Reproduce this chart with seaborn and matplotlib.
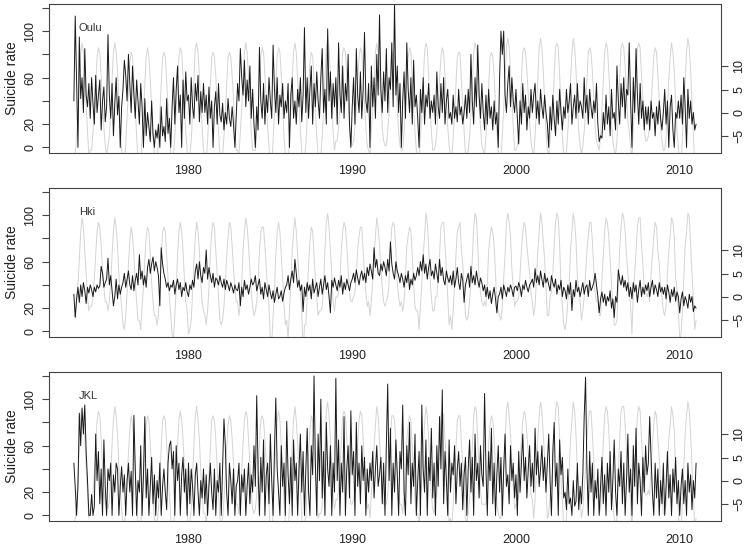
import numpy as np
import pandas as pd
import seaborn as sns
import matplotlib.pyplot as plt

# monthly values, one row per year: Jan 1973 ... Dec 2010, then Jan 2011
oulu_rate = [
    40, 113, 58, 0, 95, 42, 60, 30, 85, 45, 35, 55,
    25, 60, 38, 20, 62, 30, 45, 58, 15, 40, 52, 22,
    35, 97, 45, 25, 55, 10, 38, 60, 28, 44, 0, 35,
    50, 75, 62, 40, 80, 55, 30, 70, 45, 25, 58, 40,
    20, 55, 35, 0, 42, 10, 30, 18, 5, 40, 12, 0,
    15, 8, 20, 0, 35, 10, 18, 5, 42, 12, 25, 0,
    35, 60, 20, 50, 70, 30, 45, 0, 58, 25, 65, 40,
    45, 20, 60, 35, 25, 55, 40, 62, 22, 48, 30, 55,
    30, 45, 20, 52, 25, 40, 0, 35, 48, 20, 55, 28,
    22, 38, 15, 30, 20, 42, 25, 18, 35, 20, 0, 28,
    55, 40, 85, 60, 45, 75, 35, 58, 40, 70, 25, 50,
    20, 0, 35, 15, 86, 40, 25, 55, 20, 45, 30, 60,
    40, 25, 88, 50, 30, 60, 20, 45, 35, 55, 25, 40,
    30, 55, 0, 45, 60, 25, 40, 20, 50, 35, 60, 22,
    45, 103, 30, 60, 25, 50, 70, 20, 55, 35, 65, 40,
    25, 60, 85, 30, 50, 20, 102, 40, 65, 25, 55, 35,
    60, 20, 90, 45, 30, 70, 25, 55, 40, 80, 20, 0,
    35, 60, 20, 85, 45, 30, 65, 25, 50, 99, 40, 30,
    55, 0, 70, 35, 60, 25, 80, 45, 114, 50, 30, 65,
    40, 85, 30, 60, 50, 90, 35, 125, 45, 70, 30, 55,
    0, 40, 65, 25, 90, 50, 30, 60, 20, 75, 35, 45,
    25, 0, 50, 30, 60, 20, 45, 35, 55, 25, 40, 30,
    45, 20, 65, 35, 25, 55, 30, 60, 20, 40, 50, 25,
    30, 20, 45, 25, 35, 22, 50, 28, 35, 20, 30, 45,
    25, 50, 30, 80, 40, 20, 60, 35, 88, 45, 25, 55,
    30, 15, 45, 20, 50, 25, 35, 15, 40, 20, 30, 0,
    60, 100, 80, 100, 45, 30, 55, 70, 35, 60, 40, 30,
    50, 25, 3, 40, 20, 55, 30, 45, 15, 35, 25, 50,
    30, 45, 55, 25, 40, 20, 50, 35, 25, 45, 30, 20,
    0, 35, 15, 45, 25, 10, 40, 20, 50, 30, 15, 35,
    25, 50, 30, 40, 55, 20, 35, 45, 25, 55, 30, 40,
    35, 25, 60, 30, 45, 20, 50, 35, 25, 40, 30, 55,
    20, 5, 10, 8, 30, 15, 45, 20, 35, 10, 50, 25,
    30, 15, 70, 40, 20, 55, 35, 60, 25, 50, 45, 90,
    40, 0, 60, 30, 85, 45, 20, 55, 25, 40, 15, 35,
    20, 35, 15, 40, 25, 30, 10, 35, 20, 40, 25, 15,
    30, 50, 20, 40, 0, 35, 45, 15, 0, 30, 25, 40,
    25, 45, 20, 60, 35, 0, 50, 25, 40, 20, 30, 15,
    20,
]
oulu_temp = [
    -10, -9, -5, 0, 6, 13, 15, 13, 8, 2, -4, -9,
    -8, -8, -4, 1, 6, 12, 14, 13, 8, 2, -3, -7,
    -9, -7, -5, 0, 7, 13, 15, 13, 9, 2, -4, -8,
    -11, -10, -7, -1, 5, 11, 13, 12, 7, 1, -5, -10,
    -10, -11, -5, 0, 6, 12, 14, 12, 7, 1, -5, -9,
    -10, -10, -6, 0, 6, 12, 13, 12, 7, 1, -4, -9,
    -11, -9, -5, 1, 7, 12, 14, 13, 8, 2, -4, -8,
    -10, -9, -6, 0, 7, 14, 15, 13, 8, 2, -3, -8,
    -9, -10, -6, 0, 6, 12, 13, 12, 8, 2, -4, -9,
    -10, -9, -5, 0, 6, 12, 13, 12, 8, 3, -3, -8,
    -8, -9, -4, 1, 7, 13, 15, 13, 8, 2, -4, -8,
    -8, -8, -4, 1, 7, 12, 14, 13, 8, 3, -3, -7,
    -12, -11, -6, 0, 6, 12, 14, 13, 8, 1, -5, -9,
    -10, -11, -5, 1, 7, 13, 15, 13, 7, 2, -4, -8,
    -13, -10, -7, -1, 5, 11, 13, 12, 7, 1, -5, -9,
    -9, -9, -5, 0, 7, 14, 16, 14, 8, 2, -4, -8,
    -6, -6, -3, 1, 7, 13, 14, 13, 8, 3, -3, -6,
    -7, -6, -3, 1, 7, 12, 14, 13, 8, 2, -3, -7,
    -8, -9, -4, 1, 6, 13, 15, 13, 8, 3, -3, -6,
    -7, -7, -4, 0, 7, 12, 13, 12, 7, 1, -4, -7,
    -8, -8, -4, 1, 8, 12, 14, 13, 7, 1, -4, -8,
    -9, -10, -5, 0, 6, 13, 15, 14, 8, 2, -4, -8,
    -8, -7, -4, 1, 7, 12, 14, 13, 8, 3, -3, -7,
    -9, -10, -5, 0, 6, 12, 13, 13, 7, 2, -4, -9,
    -9, -8, -5, 0, 6, 13, 15, 14, 9, 2, -3, -7,
    -8, -9, -5, 0, 6, 12, 13, 12, 8, 2, -4, -8,
    -10, -9, -5, 1, 7, 14, 16, 14, 9, 3, -3, -8,
    -8, -7, -4, 1, 7, 13, 14, 13, 9, 4, -2, -6,
    -8, -9, -5, 1, 7, 14, 16, 14, 9, 3, -4, -8,
    -9, -6, -3, 1, 8, 14, 15, 14, 8, 1, -5, -9,
    -10, -8, -4, 1, 7, 13, 16, 14, 9, 2, -4, -7,
    -9, -7, -4, 1, 7, 13, 14, 13, 9, 3, -3, -6,
    -7, -8, -5, 1, 7, 13, 15, 14, 9, 3, -2, -6,
    -8, -9, -6, 0, 7, 14, 15, 14, 10, 4, -2, -4,
    -7, -10, -3, 1, 7, 14, 15, 14, 8, 3, -3, -6,
    -6, -5, -3, 1, 7, 12, 14, 13, 8, 3, -3, -6,
    -8, -8, -5, 1, 7, 12, 15, 13, 9, 2, -4, -7,
    -12, -11, -5, 1, 7, 13, 16, 14, 9, 2, -5, -11,
    -9,
]

hki_rate = [
    32, 12, 28, 38, 25, 40, 30, 42, 35, 24, 38, 33,
    40, 36, 30, 38, 34, 40, 37, 39, 56, 50, 38, 42,
    45, 63, 40, 48, 35, 22, 30, 45, 28, 40, 32, 38,
    42, 50, 38, 45, 52, 40, 36, 48, 35, 44, 50, 40,
    66, 45, 52, 40, 48, 38, 55, 62, 50, 58, 64, 52,
    60, 55, 48, 22, 72, 58, 50, 45, 38, 42, 35, 40,
    38, 44, 32, 40, 45, 36, 42, 30, 38, 35, 42, 34,
    30, 40, 36, 44, 38, 52, 58, 45, 60, 48, 42, 55,
    50, 70, 45, 55, 48, 42, 50, 38, 46, 44, 40, 48,
    42, 38, 45, 36, 44, 40, 35, 42, 38, 33, 40, 36,
    35, 42, 22, 38, 30, 44, 36, 40, 32, 38, 45, 40,
    42, 48, 35, 40, 45, 32, 38, 28, 42, 36, 30, 40,
    33, 28, 35, 25, 32, 38, 28, 30, 35, 26, 33, 38,
    40, 48, 36, 45, 52, 42, 62, 50, 38, 44, 35, 40,
    17, 38, 30, 42, 35, 40, 28, 45, 33, 38, 42, 30,
    38, 45, 32, 40, 48, 36, 42, 30, 16, 44, 38, 46,
    40, 35, 44, 38, 48, 32, 42, 36, 45, 40, 35, 42,
    45, 50, 42, 53, 46, 40, 48, 52, 44, 50, 42, 55,
    48, 58, 52, 45, 72, 55, 62, 50, 48, 58, 52, 60,
    55, 48, 62, 52, 77, 58, 50, 45, 60, 52, 48, 42,
    50, 45, 38, 48, 42, 52, 36, 45, 40, 50, 44, 48,
    55, 48, 60, 52, 66, 50, 58, 45, 55, 62, 48, 52,
    45, 58, 50, 42, 62, 48, 55, 44, 40, 52, 46, 42,
    48, 40, 52, 38, 45, 55, 42, 36, 50, 44, 25, 40,
    45, 50, 38, 56, 42, 48, 40, 52, 44, 38, 46, 42,
    35, 40, 30, 38, 28, 35, 24, 32, 38, 28, 16, 30,
    32, 38, 28, 40, 35, 30, 38, 34, 40, 36, 30, 38,
    39, 35, 42, 38, 30, 40, 36, 44, 38, 34, 40, 42,
    45, 38, 54, 42, 48, 40, 52, 45, 38, 50, 42, 46,
    40, 35, 48, 42, 38, 45, 32, 40, 36, 44, 30, 38,
    35, 28, 40, 32, 42, 18, 36, 30, 44, 34, 38, 30,
    36, 42, 32, 38, 40, 30, 44, 35, 38, 42, 50, 40,
    30, 16, 28, 34, 25, 32, 22, 30, 26, 35, 20, 28,
    12, 30, 25, 53, 45, 40, 48, 38, 44, 35, 42, 30,
    38, 28, 42, 34, 40, 25, 36, 44, 30, 38, 32, 40,
    35, 42, 30, 38, 44, 32, 40, 36, 30, 42, 34, 38,
    32, 38, 28, 40, 34, 25, 36, 30, 38, 26, 34, 30,
    16, 28, 34, 22, 30, 26, 20, 32, 25, 30, 17, 22,
    20,
]
hki_temp = [
    -4, -4, -1, 3, 8, 14, 17, 15, 10, 5, 0, -3,
    -2, -2, 0, 4, 9, 14, 16, 15, 11, 6, 2, -1,
    -1, -3, -1, 3, 9, 14, 17, 15, 11, 5, 1, -2,
    -6, -7, -4, 1, 7, 12, 15, 13, 9, 3, -1, -5,
    -5, -7, -2, 2, 8, 13, 15, 14, 9, 3, -1, -4,
    -4, -6, -4, 2, 8, 14, 15, 14, 9, 4, 0, -4,
    -8, -9, -4, 2, 9, 14, 16, 14, 10, 4, -1, -3,
    -8, -7, -5, 1, 8, 13, 16, 14, 10, 3, -1, -3,
    -4, -6, -3, 2, 9, 14, 16, 15, 10, 5, 0, -5,
    -6, -5, -2, 3, 9, 13, 16, 15, 11, 6, 2, -1,
    -1, -4, -1, 3, 10, 14, 17, 15, 11, 6, 1, -2,
    -4, -3, -1, 3, 10, 14, 15, 15, 11, 6, 2, -2,
    -9, -10, -4, 1, 9, 14, 16, 14, 9, 4, -2, -6,
    -5, -9, -3, 3, 10, 14, 17, 14, 9, 4, 1, -3,
    -13, -6, -6, 0, 7, 12, 15, 14, 9, 4, 0, -4,
    -3, -3, -2, 2, 10, 16, 18, 15, 10, 5, -1, -3,
    0, 0, 1, 4, 10, 14, 16, 15, 11, 6, 1, -1,
    -1, 0, 1, 5, 10, 13, 15, 15, 10, 5, 1, -2,
    -1, -4, -1, 3, 9, 13, 17, 15, 11, 6, 2, -1,
    -2, -1, 0, 3, 10, 15, 16, 15, 10, 3, 0, -2,
    -1, -3, -1, 4, 11, 13, 15, 14, 9, 3, -2, -3,
    -3, -7, -2, 3, 9, 13, 18, 16, 11, 4, 0, -3,
    -3, 0, 0, 4, 9, 15, 16, 16, 11, 6, 0, -6,
    -4, -7, -3, 3, 9, 14, 15, 16, 10, 7, 2, -4,
    -5, -4, -1, 3, 8, 15, 18, 17, 11, 4, 1, -1,
    -2, -1, -2, 3, 10, 13, 15, 14, 11, 5, -2, -3,
    -4, -5, -2, 4, 9, 16, 18, 16, 13, 6, 2, -2,
    -1, -1, 0, 5, 10, 14, 16, 15, 11, 8, 5, 1,
    -1, -4, -2, 4, 10, 14, 18, 16, 12, 8, 2, -4,
    -4, 0, 1, 5, 11, 16, 18, 17, 11, 2, -2, -6,
    -7, -5, -1, 3, 10, 14, 18, 16, 12, 4, 2, -1,
    -5, -3, 0, 5, 10, 13, 16, 16, 12, 6, 1, -1,
    -1, -4, -4, 4, 9, 14, 17, 16, 13, 8, 3, -2,
    -6, -6, -5, 3, 10, 15, 18, 17, 14, 9, 5, 2,
    -2, -8, 1, 5, 10, 15, 17, 17, 11, 7, 2, 1,
    0, 1, -1, 5, 9, 13, 16, 15, 10, 7, 2, 0,
    -3, -4, -2, 5, 10, 13, 17, 16, 13, 4, 2, -3,
    -9, -8, -3, 4, 11, 14, 18, 17, 11, 5, 0, -7,
    -5,
]

jkl_rate = [
    45, 24, 0, 25, 88, 60, 92, 70, 95, 55, 30, 0,
    0, 18, 0, 8, 70, 30, 55, 10, 40, 0, 65, 25,
    0, 40, 30, 45, 0, 35, 20, 45, 40, 0, 25, 42,
    20, 35, 0, 30, 45, 20, 38, 0, 86, 40, 0, 30,
    20, 60, 0, 35, 85, 15, 40, 0, 25, 50, 10, 35,
    0, 30, 15, 45, 0, 25, 40, 20, 5, 45, 60, 64,
    40, 55, 0, 60, 30, 45, 0, 35, 50, 20, 40, 0,
    45, 10, 40, 25, 0, 35, 45, 20, 0, 30, 15, 40,
    10, 35, 0, 25, 45, 20, 5, 40, 0, 30, 20, 45,
    0, 40, 83, 60, 20, 0, 45, 30, 10, 40, 0, 25,
    30, 45, 0, 35, 20, 40, 0, 25, 45, 10, 35, 20,
    60, 25, 103, 40, 0, 50, 20, 65, 0, 35, 45, 10,
    70, 30, 0, 55, 101, 40, 20, 0, 60, 25, 45, 0,
    81, 35, 10, 50, 0, 65, 30, 45, 0, 40, 70, 20,
    55, 0, 40, 75, 20, 0, 60, 35, 120, 45, 0, 70,
    30, 100, 15, 55, 0, 80, 40, 25, 60, 0, 45, 20,
    118, 30, 65, 0, 45, 20, 85, 0, 40, 60, 15, 90,
    35, 55, 0, 80, 25, 45, 10, 60, 30, 50, 0, 40,
    20, 45, 30, 55, 15, 40, 60, 25, 35, 50, 10, 45,
    0, 60, 113, 30, 75, 0, 45, 20, 65, 35, 0, 55,
    40, 95, 20, 0, 60, 35, 80, 10, 45, 25, 70, 0,
    30, 55, 0, 95, 40, 20, 65, 0, 50, 30, 75, 15,
    45, 0, 60, 25, 85, 40, 108, 10, 55, 30, 0, 65,
    20, 45, 35, 60, 10, 40, 55, 25, 45, 5, 35, 50,
    0, 40, 65, 20, 50, 0, 70, 30, 45, 15, 60, 35,
    25, 105, 40, 0, 55, 30, 75, 10, 45, 0, 35, 60,
    20, 50, 0, 40, 70, 25, 35, 10, 60, 30, 45, 15,
    35, 0, 55, 20, 45, 70, 30, 50, 15, 40, 60, 25,
    45, 20, 75, 35, 55, 25, 40, 60, 30, 50, 20, 45,
    70, 30, 0, 55, 80, 25, 45, 0, 65, 35, 50, 15,
    20, 5, 40, 10, 15, 0, 30, 8, 12, 45, 5, 25,
    10, 35, 85, 119, 40, 0, 55, 20, 45, 0, 30, 15,
    40, 0, 25, 50, 10, 35, 0, 45, 20, 55, 5, 30,
    65, 20, 0, 40, 25, 55, 10, 45, 0, 30, 70, 20,
    40, 0, 60, 25, 75, 10, 45, 30, 0, 50, 20, 60,
    35, 45, 85, 50, 20, 0, 45, 15, 40, 0, 30, 10,
    45, 0, 25, 55, 15, 35, 0, 40, 20, 50, 10, 30,
    0, 25, 40, 10, 30, 0, 45, 20, 35, 5, 30, 15,
    45,
]
jkl_temp = [
    -9, -8, -4, 1, 7, 14, 16, 14, 9, 3, -3, -8,
    -6, -6, -3, 2, 7, 13, 15, 14, 9, 3, -2, -5,
    -5, -6, -4, 1, 8, 13, 16, 14, 10, 3, -2, -6,
    -10, -10, -6, 0, 6, 11, 14, 12, 8, 2, -4, -9,
    -9, -10, -4, 1, 7, 12, 14, 13, 8, 2, -4, -8,
    -9, -9, -6, 1, 7, 13, 14, 13, 8, 2, -3, -8,
    -11, -11, -5, 1, 8, 13, 15, 13, 9, 3, -3, -6,
    -11, -9, -6, 1, 8, 14, 16, 13, 9, 2, -3, -7,
    -7, -9, -5, 1, 7, 13, 14, 13, 9, 3, -3, -8,
    -9, -8, -4, 1, 7, 12, 14, 13, 9, 4, -1, -5,
    -5, -7, -3, 2, 8, 13, 15, 14, 9, 4, -2, -6,
    -7, -6, -3, 2, 8, 13, 14, 13, 9, 4, -1, -5,
    -12, -13, -6, 0, 7, 13, 15, 13, 8, 2, -4, -9,
    -9, -12, -5, 1, 8, 13, 16, 13, 8, 2, -2, -7,
    -15, -9, -8, -1, 6, 11, 14, 13, 8, 2, -3, -8,
    -7, -7, -5, 1, 8, 15, 17, 14, 9, 3, -3, -6,
    -4, -4, -2, 2, 8, 14, 15, 14, 9, 4, -2, -5,
    -5, -4, -2, 3, 8, 13, 15, 14, 9, 3, -2, -6,
    -5, -8, -3, 2, 7, 12, 16, 14, 9, 4, -1, -5,
    -5, -5, -3, 1, 8, 14, 14, 13, 8, 2, -3, -5,
    -5, -7, -3, 2, 9, 12, 14, 13, 7, 1, -4, -7,
    -7, -10, -4, 1, 7, 12, 16, 14, 9, 2, -3, -6,
    -7, -4, -3, 2, 8, 14, 15, 14, 9, 4, -3, -9,
    -8, -10, -5, 1, 7, 13, 14, 14, 8, 4, -1, -8,
    -9, -7, -4, 1, 7, 14, 16, 15, 9, 2, -2, -5,
    -5, -5, -5, 1, 8, 12, 14, 13, 9, 3, -5, -7,
    -8, -8, -4, 2, 8, 15, 17, 14, 10, 4, -1, -6,
    -5, -5, -3, 3, 9, 13, 15, 14, 10, 6, 2, -3,
    -4, -8, -4, 2, 9, 14, 17, 15, 10, 5, -2, -8,
    -7, -3, -1, 3, 10, 15, 17, 16, 9, 0, -4, -10,
    -11, -8, -3, 2, 9, 13, 17, 15, 10, 2, -1, -4,
    -8, -6, -2, 3, 9, 13, 15, 15, 10, 4, -1, -4,
    -3, -7, -6, 2, 8, 14, 16, 15, 11, 5, 0, -5,
    -8, -10, -8, 2, 9, 15, 16, 16, 12, 6, 1, 0,
    -5, -11, 0, 3, 8, 14, 16, 15, 9, 4, -2, -3,
    -3, -2, -3, 3, 8, 12, 15, 14, 9, 5, -1, -3,
    -7, -7, -5, 3, 9, 12, 16, 14, 11, 2, -2, -6,
    -13, -11, -4, 3, 10, 14, 17, 15, 10, 3, -3, -10,
    -8,
]

panel_names = ["Oulu", "Hki", "JKL"]
rates = [oulu_rate, hki_rate, jkl_rate]
temps = [oulu_temp, hki_temp, jkl_temp]

sns.set_theme(style="white")
plt.rcParams['font.family'] = ['Liberation Sans', 'DejaVu Sans']

box_col = "#444444"
fig = plt.figure(figsize=(7.5, 5.47), dpi=100)
bottoms = [0.7203, 0.3839, 0.0475]

for name, rate, temp, bottom in zip(panel_names, rates, temps, bottoms):
    d_rate = pd.DataFrame({"year": 1973 + np.arange(len(rate)) / 12, "rate": rate})
    d_temp = pd.DataFrame({"year": 1973 + np.arange(len(temp)) / 12, "temp": temp})

    ax = fig.add_axes([0.0653, bottom, 0.896, 0.2733])
    tw = ax.twinx()
    sns.lineplot(data=d_temp, x="year", y="temp", ax=tw, color="#d4d4d4",
                 linewidth=0.7, estimator=None)
    sns.lineplot(data=d_rate, x="year", y="rate", ax=ax, color="#1a1a1a",
                 linewidth=0.7, estimator=None)
    # keep the grey temperature curve behind the rate series
    ax.set_zorder(tw.get_zorder() + 1)
    ax.patch.set_visible(False)

    ax.set_xlim(1971.48, 2012.52)
    ax.set_ylim(-4.8, 123.8)
    tw.set_ylim(-8.6, 23.5)

    ax.set_xticks([1980, 1990, 2000, 2010])
    ax.set_yticks(range(0, 121, 20), ["0", "20", "", "60", "", "100", ""])
    tw.set_yticks([-5, 0, 5, 10])
    for a in (ax, tw):
        a.tick_params(direction="out", length=5, width=0.8, color=box_col,
                      labelsize=9, pad=4, labelcolor="#222222")
        a.grid(False)
    plt.setp(ax.get_yticklabels(), rotation=90, va="center")
    plt.setp(tw.get_yticklabels(), rotation=90, va="center")

    ax.set_xlabel("")
    tw.set_ylabel("")
    ax.set_ylabel("Suicide rate", fontsize=10, labelpad=4, color="#222222")
    ax.text(1973.3, 103, name, fontsize=8, color="#333333", ha="left", va="center")

    for sp in ax.spines.values():
        sp.set_color(box_col)
        sp.set_linewidth(0.8)
    for sp in tw.spines.values():
        sp.set_visible(False)

fig.savefig("out.png", dpi=100)
